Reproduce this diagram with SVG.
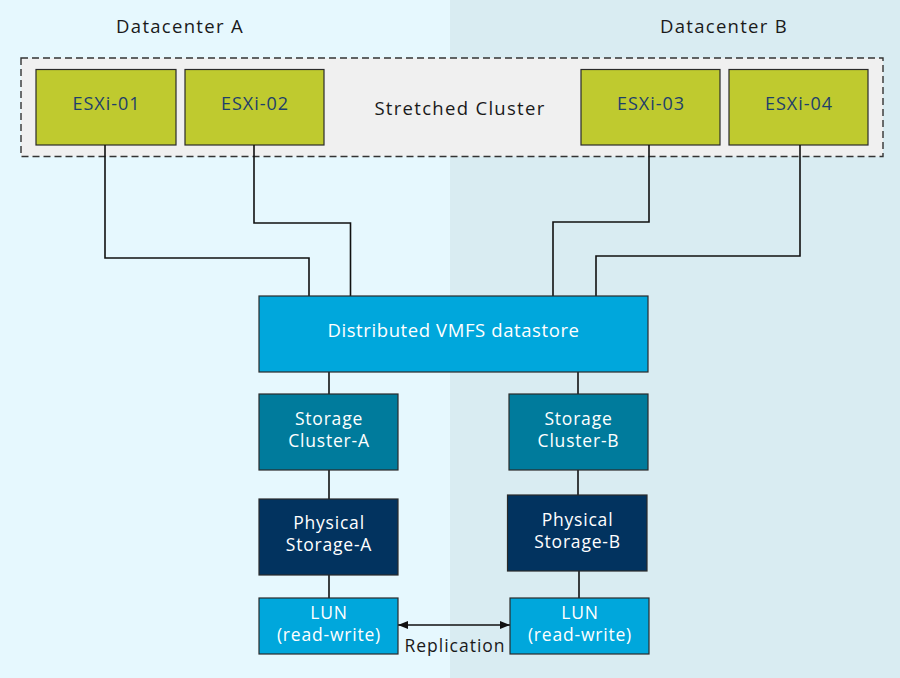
<svg xmlns="http://www.w3.org/2000/svg" width="900" height="678" viewBox="0 0 900 678">
<style>
text{font-family:"Open Sans","Noto Sans","Liberation Sans",sans-serif;text-anchor:middle}
.lbl{font-size:18.5px;fill:#1a1a1a;letter-spacing:1.3px}
.esx rect{fill:#bfca2f;stroke:#2a2a2a;stroke-width:1.2}
.esx text{font-size:18px;fill:#1e3f6b;letter-spacing:1px}
.node rect{stroke:#2a2a2a;stroke-width:1.2}
.node text{font-size:17.5px;fill:#ffffff;letter-spacing:0.8px}
.conn{fill:none;stroke:#111;stroke-width:1.6}
</style>
<defs>
<marker id="ah" viewBox="0 0 10 10" refX="10" refY="5" markerWidth="10" markerHeight="10" markerUnits="userSpaceOnUse" orient="auto-start-reverse">
<path d="M0,1 L10,5 L0,9 z" fill="#111"/>
</marker>
</defs>
<rect x="0" y="0" width="450" height="678" fill="#e6f8fe"/>
<rect x="450" y="0" width="450" height="678" fill="#d9ecf2"/>
<text class="lbl" x="180" y="33">Datacenter A</text>
<text class="lbl" x="724" y="33">Datacenter B</text>
<g id="stretched-cluster">
<rect x="21" y="58" width="862" height="98.5" fill="#f0f0f0" stroke="#333" stroke-width="1.4" stroke-dasharray="7,4"/>
<text class="lbl" x="460" y="115">Stretched Cluster</text>
</g>
<g id="esxi-01" class="esx"><rect x="36" y="69.5" width="140" height="75.5"/><text x="106.5" y="110">ESXi-01</text></g>
<g id="esxi-02" class="esx"><rect x="185" y="69.5" width="139" height="75.5"/><text x="255" y="110">ESXi-02</text></g>
<g id="esxi-03" class="esx"><rect x="581" y="69.5" width="139" height="75.5"/><text x="651" y="110">ESXi-03</text></g>
<g id="esxi-04" class="esx"><rect x="729" y="69.5" width="139" height="75.5"/><text x="799" y="110">ESXi-04</text></g>
<g id="connectors">
<polyline class="conn" points="105,145 105,258 309,258 309,296"/>
<polyline class="conn" points="254,145 254,223 350.5,223 350.5,296"/>
<polyline class="conn" points="649,145 649,222 553,222 553,296"/>
<polyline class="conn" points="800,145 800,256 596,256 596,296"/>
<line class="conn" x1="329" y1="372" x2="329" y2="394"/>
<line class="conn" x1="578" y1="372" x2="578" y2="394"/>
<line class="conn" x1="329" y1="470" x2="329" y2="499"/>
<line class="conn" x1="578" y1="470" x2="578" y2="495"/>
<line class="conn" x1="329" y1="575" x2="329" y2="598"/>
<line class="conn" x1="579" y1="571" x2="579" y2="598"/>
<line class="conn" x1="398" y1="625" x2="510" y2="625" stroke-width="1.4" marker-start="url(#ah)" marker-end="url(#ah)"/>
<text class="lbl" x="455" y="652" style="font-size:17.5px;letter-spacing:1px">Replication</text>
</g>
<g id="datastore" class="node"><rect x="259" y="296" width="389" height="76" fill="#00a7dc"/><text x="453.5" y="337" style="font-size:18.5px;letter-spacing:0.6px">Distributed VMFS datastore</text></g>
<g id="storage-cluster-a" class="node"><rect x="259" y="394" width="139" height="76" fill="#007b9c"/><text x="329" y="425">Storage</text><text x="329" y="447">Cluster-A</text></g>
<g id="storage-cluster-b" class="node"><rect x="509" y="394" width="139" height="76" fill="#007b9c"/><text x="578.5" y="425">Storage</text><text x="578.5" y="447">Cluster-B</text></g>
<g id="physical-storage-a" class="node"><rect x="259" y="499" width="139" height="76" fill="#02335f"/><text x="329" y="529">Physical</text><text x="329" y="551">Storage-A</text></g>
<g id="physical-storage-b" class="node"><rect x="507.5" y="495" width="139.5" height="76" fill="#02335f"/><text x="577.5" y="526">Physical</text><text x="577.5" y="548">Storage-B</text></g>
<g id="lun-a" class="node"><rect x="259" y="598" width="139" height="56" fill="#00a7dc"/><text x="329" y="619">LUN</text><text x="329" y="641">(read-write)</text></g>
<g id="lun-b" class="node"><rect x="510" y="598" width="139" height="56" fill="#00a7dc"/><text x="580" y="619">LUN</text><text x="580" y="641">(read-write)</text></g>
</svg>
